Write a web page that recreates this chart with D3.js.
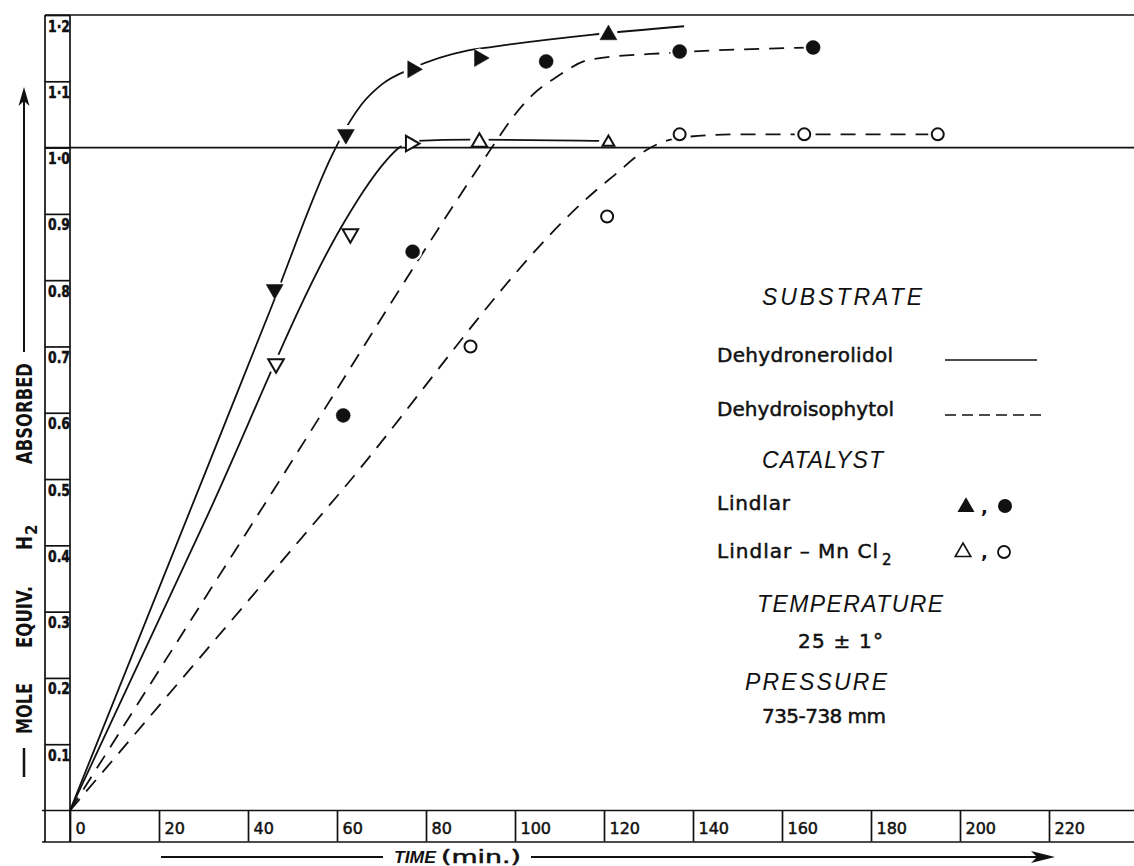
<!DOCTYPE html>
<html>
<head>
<meta charset="utf-8">
<script src="https://cdn.jsdelivr.net/npm/d3@7"></script>
<style>
  body { margin: 0; background: #fff; }
  svg { display: block; }
</style>
</head>
<body>
<svg id="chart" width="1134" height="866"></svg>
<script>

// ---- axis ticks ----
const timeTicks = [0, 20, 40, 60, 80, 100, 120, 140, 160, 180, 200, 220];
const h2Ticks = [0.1, 0.2, 0.3, 0.4, 0.5, 0.6, 0.7, 0.8, 0.9, 1.0, 1.1, 1.2];
const h2TickLabels = ["0.1", "0.2", "0.3", "0.4", "0.5", "0.6", "0.7", "0.8", "0.9", "1·0", "1·1", "1·2"];

// ---- dehydronerolidol, Lindlar (solid, filled triangles) ----
const nerolLindlarT = [46, 62, 77, 92, 121];
const nerolLindlarV = [0.786, 1.02, 1.118, 1.135, 1.17];
const nerolLindlarPointing = ["down", "down", "right", "right", "up"];
const nerolLindlarCurveT = [0, 30, 45, 59, 62.5, 65.5, 70, 77, 89, 95, 117, 138];
const nerolLindlarCurveV = [0, 0.503, 0.755, 0.99, 1.035, 1.065, 1.095, 1.12, 1.146, 1.152, 1.17, 1.183];

// ---- dehydronerolidol, Lindlar-MnCl2 (solid, open triangles) ----
const nerolMnT = [46.3, 63, 76.5, 92, 121];
const nerolMnV = [0.674, 0.87, 1.006, 1.008, 1.008];
const nerolMnPointing = ["down", "down", "right", "up", "up"];
const nerolMnCurveT = [0, 30, 62, 66, 71, 74, 78, 90, 121];
const nerolMnCurveV = [0, 0.432, 0.892, 0.935, 0.98, 1.0, 1.01, 1.012, 1.01];

// ---- dehydroisophytol, Lindlar (dashed, filled circles) ----
const isoLindlarT = [61.4, 77, 107, 137, 167];
const isoLindlarV = [0.596, 0.843, 1.13, 1.145, 1.151];
const isoLindlarCurveT = [0, 46, 92, 96, 100, 104, 109, 117, 135, 167];
const isoLindlarCurveV = [0, 0.486, 0.972, 1.012, 1.05, 1.08, 1.105, 1.133, 1.143, 1.151];

// ---- dehydroisophytol, Lindlar-MnCl2 (dashed, open circles) ----
const isoMnT = [90, 120.7, 137, 165, 195];
const isoMnV = [0.70, 0.896, 1.02, 1.02, 1.02];
const isoMnCurveT = [0, 60, 119, 123, 127, 132, 137, 150, 165, 195];
const isoMnCurveV = [0, 0.474, 0.94, 0.962, 0.985, 1.005, 1.015, 1.02, 1.02, 1.02];

const zip = (a, b) => a.map((v, i) => [v, b[i]]);

const series = [
    { curve: zip(nerolLindlarCurveT, nerolLindlarCurveV), points: zip(nerolLindlarT, nerolLindlarV),
      pointing: nerolLindlarPointing, shape: "triangle", filled: true, dashed: false },
    { curve: zip(nerolMnCurveT, nerolMnCurveV), points: zip(nerolMnT, nerolMnV),
      pointing: nerolMnPointing, shape: "triangle", filled: false, dashed: false },
    { curve: zip(isoLindlarCurveT, isoLindlarCurveV), points: zip(isoLindlarT, isoLindlarV),
      shape: "circle", filled: true, dashed: true },
    { curve: zip(isoMnCurveT, isoMnCurveV), points: zip(isoMnT, isoMnV),
      shape: "circle", filled: false, dashed: true }
];

const svg = d3.select("#chart");
const ink = "#111";

const x = d3.scaleLinear().domain([0, 220]).range([70, 1049]);
const y = d3.scaleLinear().domain([0, 1.2]).range([810.5, 15]);

//
// FRAME
//

const frame = svg.append("g").attr("stroke", ink).attr("stroke-width", 1.7).attr("fill", "none");
frame.append("line").attr("x1", 45).attr("x2", 1134).attr("y1", y(1.2)).attr("y2", y(1.2));
frame.append("line").attr("x1", 45).attr("x2", 45).attr("y1", y(1.2)).attr("y2", 842);
frame.append("line").attr("x1", x(0)).attr("x2", x(0)).attr("y1", y(1.2)).attr("y2", 842);
frame.append("line").attr("x1", 42).attr("x2", 1134).attr("y1", y(0)).attr("y2", y(0));
frame.append("line").attr("x1", 42).attr("x2", 1134).attr("y1", 842).attr("y2", 842);

//
// AXES
//

svg.append("g")
    .attr("transform", `translate(0, ${y(0)})`)
    .call(d3.axisBottom(x).tickValues(timeTicks).tickSize(31).tickSizeOuter(0).tickFormat(d3.format("d")))
    .call(g => g.select(".domain").remove())
    .call(g => g.selectAll(".tick line").attr("stroke", ink).attr("stroke-width", 1.7))
    .call(g => g.selectAll(".tick text")
        .attr("x", 5).attr("y", 23).attr("dy", 0)
        .attr("text-anchor", "start")
        .attr("fill", ink).attr("stroke", ink).attr("stroke-width", 0.5)
        .style("font-family", "DejaVu Sans").style("font-size", "16px"));

const h2Label = new Map(h2Ticks.map((t, i) => [t, h2TickLabels[i]]));

svg.append("g")
    .attr("transform", `translate(${x(0)}, 0)`)
    .call(d3.axisLeft(y).tickValues(h2Ticks).tickSize(25).tickFormat(d => h2Label.get(d)))
    .call(g => g.select(".domain").remove())
    .call(g => g.selectAll(".tick line").attr("stroke", ink).attr("stroke-width", 1.7))
    .call(g => g.selectAll(".tick text")
        .attr("x", -22).attr("y", 16).attr("dy", 0)
        .attr("text-anchor", "start")
        .attr("textLength", 22).attr("lengthAdjust", "spacingAndGlyphs")
        .attr("fill", ink).attr("stroke", ink).attr("stroke-width", 0.5)
        .style("font-family", "DejaVu Sans").style("font-weight", "bold").style("font-size", "16px"));

// y label, read bottom to top
const ylab = svg.append("g").attr("fill", ink)
    .style("font-family", "DejaVu Sans").style("font-weight", "bold").style("font-size", "21px");

const yWord = (text, yBottom, yTop) => ylab.append("text")
    .attr("transform", `translate(32, ${yBottom}) rotate(-90)`)
    .attr("textLength", yBottom - yTop).attr("lengthAdjust", "spacingAndGlyphs")
    .text(text);

yWord("MOLE", 734, 683);
yWord("EQUIV.", 648, 586);
yWord("H", 550, 536);
ylab.append("text")
    .attr("transform", `translate(37, 535) rotate(-90)`)
    .style("font-size", "15px")
    .text("2");
yWord("ABSORBED", 464, 363);

svg.append("line").attr("x1", 24).attr("x2", 24).attr("y1", 748).attr("y2", 777)
    .attr("stroke", ink).attr("stroke-width", 2.5);
svg.append("line").attr("x1", 24).attr("x2", 24).attr("y1", 352).attr("y2", 100)
    .attr("stroke", ink).attr("stroke-width", 2);
svg.append("path").attr("d", "M24,87 L18.5,106 L24,101 L29.5,106 Z").attr("fill", ink);

// x label
svg.append("line").attr("x1", 161).attr("x2", 383).attr("y1", 857).attr("y2", 857)
    .attr("stroke", ink).attr("stroke-width", 2);
svg.append("line").attr("x1", 531).attr("x2", 1040).attr("y1", 857).attr("y2", 857)
    .attr("stroke", ink).attr("stroke-width", 2);
svg.append("path").attr("d", "M1055,857 L1031,851 L1037,857 L1031,863 Z").attr("fill", ink);

svg.append("text").attr("x", 394).attr("y", 863)
    .attr("textLength", 42).attr("lengthAdjust", "spacingAndGlyphs")
    .attr("fill", ink)
    .style("font-family", "Liberation Sans").style("font-style", "italic").style("font-weight", "bold")
    .style("font-size", "17px")
    .text("TIME");
svg.append("text").attr("x", 441).attr("y", 863)
    .attr("textLength", 80).attr("lengthAdjust", "spacingAndGlyphs")
    .attr("fill", ink).attr("stroke", ink).attr("stroke-width", 0.5)
    .style("font-family", "DejaVu Sans").style("font-size", "18px")
    .text("(min.)");

//
// CURVES
//

const line = d3.line()
    .x(d => x(d[0]))
    .y(d => y(d[1]))
    .curve(d3.curveMonotoneX);

svg.append("g")
    .selectAll("path")
    .data(series)
    .enter().append("path")
        .attr("d", d => line(d.curve))
        .attr("fill", "none")
        .attr("stroke", ink)
        .attr("stroke-width", 1.8)
        .attr("stroke-dasharray", d => d.dashed ? "15,10" : null);

// white gaps around the markers
const allPoints = series.flatMap(s => s.points.map((p, i) => ({ s, i, t: p[0], v: p[1] })));

svg.append("g")
    .selectAll("circle")
    .data(allPoints)
    .enter().append("circle")
        .attr("cx", d => x(d.t))
        .attr("cy", d => y(d.v))
        .attr("r", 9.5)
        .attr("fill", "#fff");

// the 1.0 reference line
svg.append("line")
    .attr("x1", 45).attr("x2", 1134)
    .attr("y1", y(1.0)).attr("y2", y(1.0))
    .attr("stroke", ink).attr("stroke-width", 1.7);

//
// MARKERS
//

const rotation = { down: 180, right: 90, up: 0 };
const tri = (size) => d3.symbol(d3.symbolTriangle, size)();

const marks = svg.append("g");

marks.selectAll("path")
    .data(allPoints.filter(d => d.s.shape === "triangle"))
    .enter().append("path")
        .attr("d", d => tri(d.s.filled ? 125 : (d.i === 4 ? 60 : 105)))
        .attr("transform", d => `translate(${x(d.t)}, ${y(d.v)}) rotate(${rotation[d.s.pointing[d.i]]})`)
        .attr("fill", d => d.s.filled ? ink : "#fff")
        .attr("stroke", ink)
        .attr("stroke-width", d => d.s.filled ? 0.5 : 2);

marks.selectAll("circle")
    .data(allPoints.filter(d => d.s.shape === "circle"))
    .enter().append("circle")
        .attr("cx", d => x(d.t))
        .attr("cy", d => y(d.v))
        .attr("r", d => d.s.filled ? 7 : 6)
        .attr("fill", d => d.s.filled ? ink : "#fff")
        .attr("stroke", ink)
        .attr("stroke-width", d => d.s.filled ? 0.5 : 2);

//
// LEGEND
//

const legend = svg.append("g").attr("fill", ink);

const heading = (text, x0, base, width) => legend.append("text")
    .attr("x", x0).attr("y", base)
    .attr("textLength", width).attr("lengthAdjust", "spacing")
    .style("font-family", "Liberation Sans").style("font-style", "italic")
    .style("font-size", "23px")
    .text(text);

const body = (text, x0, base, width) => legend.append("text")
    .attr("x", x0).attr("y", base)
    .attr("textLength", width).attr("lengthAdjust", "spacing")
    .attr("stroke", ink).attr("stroke-width", 0.5)
    .style("font-family", "DejaVu Sans")
    .style("font-size", "20px")
    .text(text);

heading("SUBSTRATE", 762, 305, 160);
body("Dehydronerolidol", 717, 362, 176);
body("Dehydroisophytol", 717, 416, 177);
heading("CATALYST", 762, 468, 121);
body("Lindlar", 717, 510, 73);

body("Lindlar – Mn Cl", 717, 558, 161);
legend.append("text")
    .attr("x", 882).attr("y", 565)
    .attr("stroke", ink).attr("stroke-width", 0.5)
    .style("font-family", "DejaVu Sans").style("font-size", "15px")
    .text("2");

heading("TEMPERATURE", 757, 612, 186);
body("25 ± 1°", 798, 648, 85);
heading("PRESSURE", 745, 690, 142);
body("735-738 mm", 762, 723, 124);

legend.append("line").attr("x1", 945).attr("x2", 1037).attr("y1", 360).attr("y2", 360)
    .attr("stroke", ink).attr("stroke-width", 1.7);
legend.append("line").attr("x1", 945).attr("x2", 1043).attr("y1", 415).attr("y2", 415)
    .attr("stroke", ink).attr("stroke-width", 1.7).attr("stroke-dasharray", "11,6");

legend.append("path").attr("d", tri(125)).attr("transform", "translate(966, 507)");
legend.append("circle").attr("cx", 1005).attr("cy", 506).attr("r", 7);
legend.append("path").attr("d", tri(105)).attr("transform", "translate(963, 552)")
    .attr("fill", "#fff").attr("stroke", ink).attr("stroke-width", 1.6);
legend.append("circle").attr("cx", 1004).attr("cy", 552).attr("r", 6)
    .attr("fill", "#fff").attr("stroke", ink).attr("stroke-width", 1.8);

legend.append("text").attr("x", 981).attr("y", 513).style("font-family", "DejaVu Sans")
    .style("font-weight", "bold").style("font-size", "18px").text(",");
legend.append("text").attr("x", 981).attr("y", 558).style("font-family", "DejaVu Sans")
    .style("font-weight", "bold").style("font-size", "18px").text(",");

</script>
</body>
</html>
